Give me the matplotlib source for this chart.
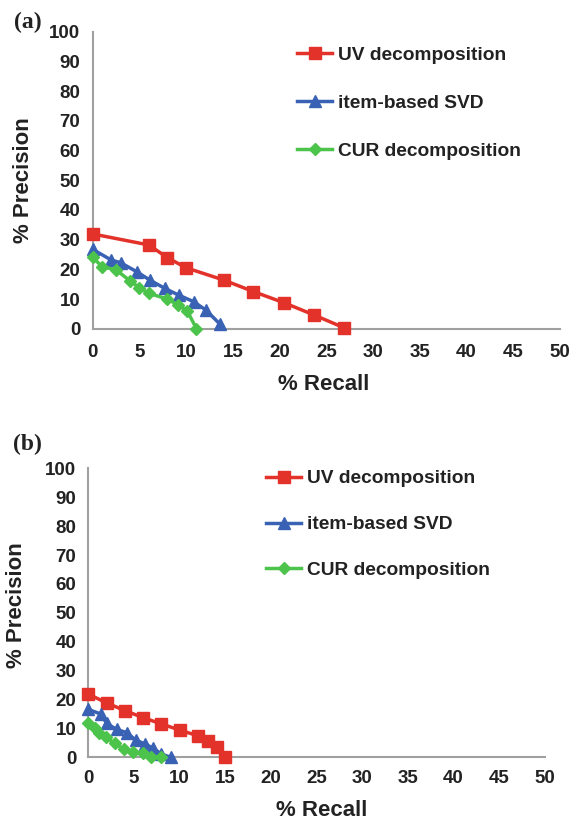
import matplotlib
matplotlib.use("Agg")
import matplotlib.pyplot as plt

# panel (a) values
a_uv_recall = [0, 6, 8, 10, 14, 17.2, 20.5, 23.7, 26.9]
a_uv_prec = [31.9, 28.2, 23.9, 20.5, 16.4, 12.5, 8.7, 4.6, 0.3]
a_svd_recall = [0, 2.0, 3.0, 4.7, 6.1, 7.7, 9.2, 10.8, 12.1, 13.6]
a_svd_prec = [26.7, 23.1, 22.2, 19.2, 16.4, 13.6, 11.3, 9.1, 6.3, 1.6]
a_cur_recall = [0, 1.0, 2.5, 4.0, 5.0, 6.0, 8.0, 9.1, 10.1, 11.1]
a_cur_prec = [24.0, 20.9, 19.8, 16.1, 13.8, 11.9, 10.0, 8.0, 6.1, 0]

# panel (b)
b_uv_recall = [0, 2, 4, 6, 8, 10, 12, 13.1, 14.1, 15]
b_uv_prec = [21.9, 18.9, 16.2, 13.8, 11.6, 9.5, 7.5, 5.7, 3.7, 0]
b_svd_recall = [0, 1.4, 2.0, 3.1, 4.2, 5.2, 6.2, 7.1, 8.0, 9.1]
b_svd_prec = [16.6, 15.0, 11.8, 9.7, 8.6, 6.0, 4.7, 3.2, 1.2, 0]
b_cur_recall = [0, 0.7, 1.2, 1.9, 2.9, 3.9, 4.9, 6.0, 6.9, 8.0]
b_cur_prec = [12.0, 10.1, 8.6, 7.0, 4.9, 2.8, 2.0, 1.4, 0.3, 0]

labels = ["UV decomposition", "item-based SVD", "CUR decomposition"]
xticks = list(range(0, 55, 5))
yticks = list(range(0, 110, 10))

plt.rcParams['font.family'] = ['Liberation Sans', 'DejaVu Sans']
plt.rcParams['font.weight'] = 'bold'

W, H = 573, 823
fig = plt.figure(figsize=(W / 100, H / 100), dpi=100)
ax1 = fig.add_axes([0.1618, 0.6006, 0.8155, 0.3609])
ax2 = fig.add_axes([0.1541, 0.0796, 0.7967, 0.3514])

red = '#e2322a'
blue = '#3a62b4'
green = '#4cc34a'
txt = '#222222'


def draw(ax, data, leg_anchor, spacing, xpad, ypad):
    styles = [(red, 's', 8), (blue, '^', 9), (green, 'D', 6.5)]
    for (x, y), (c, m, ms), lab in zip(data, styles, labels):
        ax.plot(x, y, color=c, marker=m, markersize=ms, linewidth=2.5,
                label=lab, clip_on=False, zorder=3)
    ax.set_xlim(0, 50)
    ax.set_ylim(0, 100)
    ax.set_xticks(xticks)
    ax.set_yticks(yticks)
    ax.tick_params(length=0, labelsize=13.5, colors=txt)
    ax.tick_params(axis='x', pad=xpad)
    ax.tick_params(axis='y', pad=ypad)
    for s in ['top', 'right']:
        ax.spines[s].set_visible(False)
    for s in ['left', 'bottom']:
        ax.spines[s].set_color('#a0a0a0')
        ax.spines[s].set_linewidth(1.5)
    ax.legend(loc='upper left', bbox_to_anchor=leg_anchor, frameon=False,
              fontsize=13.8, numpoints=1, handlelength=1.85, handletextpad=0.3,
              labelspacing=spacing, borderaxespad=0, borderpad=0,
              labelcolor=txt)


draw(ax1, [(a_uv_recall, a_uv_prec), (a_svd_recall, a_svd_prec), (a_cur_recall, a_cur_prec)],
     (0.437, 0.95), 1.6, 11, 9)
draw(ax2, [(b_uv_recall, b_uv_prec), (b_svd_recall, b_svd_prec), (b_cur_recall, b_cur_prec)],
     (0.389, 0.994), 1.48, 9, 8.5)

# axis titles placed in figure pixels
for x, y in [(24, 180), (17, 605)]:
    fig.text(x / W, 1 - y / H, '% Precision', rotation=90, fontsize=16,
             fontweight='bold', ha='center', va='center', color=txt)
for x, y in [(324, 385), (322, 811)]:
    fig.text(x / W, 1 - y / H, '% Recall', fontsize=16,
             fontweight='bold', ha='center', va='center', color=txt)

fig.text(28 / W, 1 - 22 / H, '(a)', fontsize=17, fontweight='bold',
         family=['Liberation Serif', 'DejaVu Serif'], ha='center', va='center', color=txt)
fig.text(27 / W, 1 - 444 / H, '(b)', fontsize=17, fontweight='bold',
         family=['Liberation Serif', 'DejaVu Serif'], ha='center', va='center', color=txt)

fig.savefig('out.png', dpi=100)
